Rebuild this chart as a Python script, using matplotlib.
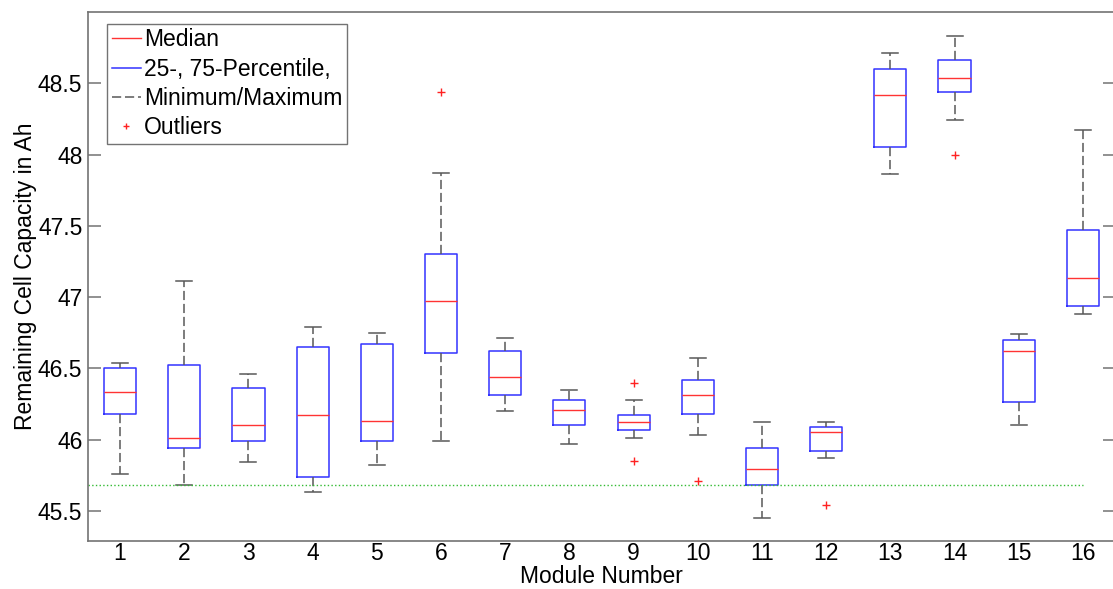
import matplotlib.pyplot as plt
from matplotlib.lines import Line2D

plt.rcParams['font.family'] = ['Liberation Sans', 'DejaVu Sans']

# box statistics per module (Ah)
modules = list(range(1, 17))
medians = [46.33, 46.01, 46.10, 46.17, 46.13, 46.97, 46.44, 46.21,
           46.12, 46.31, 45.79, 46.05, 48.42, 48.54, 46.62, 47.13]
q1 = [46.18, 45.94, 45.99, 45.74, 45.99, 46.61, 46.31, 46.10,
      46.07, 46.18, 45.68, 45.92, 48.05, 48.44, 46.26, 46.94]
q3 = [46.50, 46.52, 46.36, 46.65, 46.67, 47.30, 46.62, 46.28,
      46.17, 46.42, 45.94, 46.09, 48.60, 48.66, 46.70, 47.47]
mins = [45.76, 45.68, 45.84, 45.63, 45.82, 45.99, 46.20, 45.97,
        46.01, 46.03, 45.45, 45.87, 47.86, 48.24, 46.10, 46.88]
maxs = [46.54, 47.11, 46.46, 46.79, 46.75, 47.87, 46.71, 46.35,
        46.28, 46.57, 46.12, 46.12, 48.71, 48.83, 46.74, 48.17]
outliers = [[], [], [], [], [], [48.44], [], [],
            [46.40, 45.85], [45.71], [], [45.54], [], [48.00], [], []]
limit_capacity = 45.68

stats = []
for i in range(len(modules)):
    stats.append({'med': medians[i], 'q1': q1[i], 'q3': q3[i],
                  'whislo': mins[i], 'whishi': maxs[i], 'fliers': outliers[i]})

fig = plt.figure(figsize=(11.13, 5.89), dpi=100)
ax = fig.add_axes([88 / 1113, 48.3 / 589, 1027 / 1113, 528.7 / 589])

fs = 16.5
dash = (0, (6, 2.5))
ax.bxp(stats, positions=modules, widths=0.5, capwidths=0.25,
       boxprops=dict(color='#3333ff', linewidth=1.1),
       medianprops=dict(color='#ff3333', linewidth=1.0),
       whiskerprops=dict(color='0.35', linewidth=1.1, linestyle=dash),
       capprops=dict(color='0.35', linewidth=1.1),
       flierprops=dict(marker='+', markeredgecolor='#ff2222', markersize=6,
                       markeredgewidth=1.0, linestyle='none'))

ax.plot([0.5, 16], [limit_capacity, limit_capacity], linestyle=':',
        color='#33bb33', linewidth=1.0)

ax.set_xlim(0.5, 16.5)
ax.set_ylim(45.29, 49.0)
ax.set_xticks(modules)
ax.set_xticklabels([str(m) for m in modules])
ax.set_yticks([45.5, 46, 46.5, 47, 47.5, 48, 48.5])
ax.set_yticklabels(['45.5', '46', '46.5', '47', '47.5', '48', '48.5'])
ax.tick_params(axis='y', direction='in', length=9, width=1.1, color='0.45',
               right=True, labelsize=fs, pad=4)
ax.tick_params(axis='x', length=0, labelsize=fs, pad=1)
for s in ax.spines.values():
    s.set_color('0.45')
    s.set_linewidth(1.2)

ax.set_xlabel('Module Number', fontsize=fs, labelpad=0)
ax.set_ylabel('Remaining Cell Capacity in Ah', fontsize=fs, labelpad=1)

handles = [
    Line2D([], [], color='#ff3333', linewidth=1.0),
    Line2D([], [], color='#3333ff', linewidth=1.1),
    Line2D([], [], color='0.35', linewidth=1.1, linestyle=dash),
    Line2D([], [], color='#ff2222', marker='+', linestyle='none', markersize=5),
]
labels = ['Median', '25-, 75-Percentile,', 'Minimum/Maximum', 'Outliers']
leg = ax.legend(handles, labels, loc='upper left', fontsize=fs,
                bbox_to_anchor=(0.0185, 0.978), borderaxespad=0,
                handlelength=1.3, handletextpad=0.1, labelspacing=0.28,
                borderpad=0.2, fancybox=False, framealpha=1)
leg.get_frame().set_edgecolor('0.45')
leg.get_frame().set_linewidth(1.0)

fig.savefig('out.png', dpi=100)
